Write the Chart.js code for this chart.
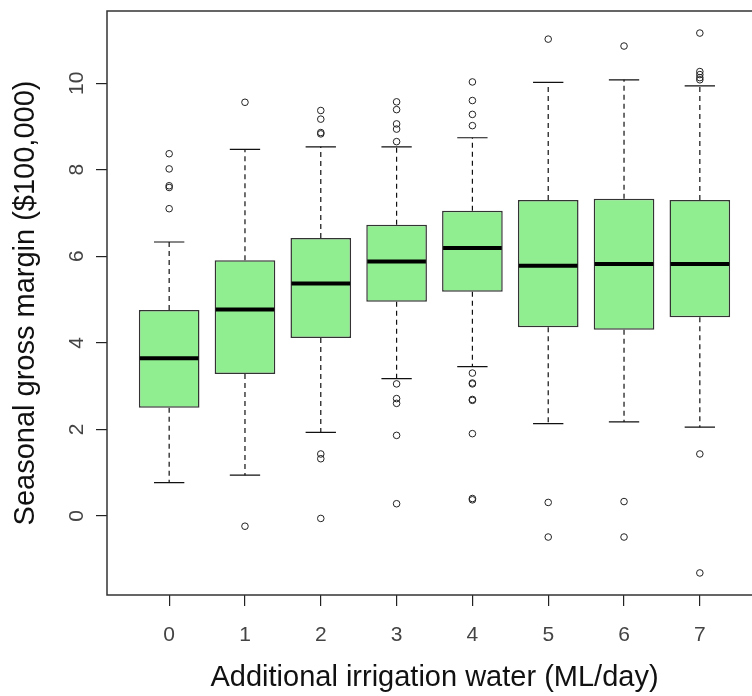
<!DOCTYPE html>
<html>
<head>
<meta charset="utf-8">
<title>Seasonal gross margin by irrigation water</title>
<script src="https://cdn.jsdelivr.net/npm/chart.js@4.4.1/dist/chart.umd.min.js"></script>
<style>
  html, body { margin: 0; padding: 0; background: #fff; overflow: hidden; }
  #wrap { width: 752px; height: 696px; overflow: hidden; }
</style>
</head>
<body>
<div id="wrap"><canvas id="chart" width="770" height="696"></canvas></div>
<script>
// Box plot summary per irrigation level ($100,000)
const groups = ['0', '1', '2', '3', '4', '5', '6', '7'];
const whiskerLow  = [0.77, 0.94, 1.93, 3.17, 3.45, 2.13, 2.17, 2.05];
const q1          = [2.50, 3.28, 4.11, 4.95, 5.18, 4.36, 4.30, 4.59];
const median      = [3.64, 4.77, 5.37, 5.88, 6.19, 5.78, 5.82, 5.82];
const q3          = [4.76, 5.91, 6.42, 6.73, 7.05, 7.30, 7.33, 7.30];
const whiskerHigh = [6.33, 8.47, 8.53, 8.53, 8.74, 10.02, 10.08, 9.94];
const outliers = [
  [8.37, 8.02, 7.63, 7.59, 7.10],
  [9.56, -0.24],
  [9.37, 9.17, 8.86, 8.83, 1.43, 1.32, -0.06],
  [9.57, 9.39, 9.06, 8.94, 8.65, 3.05, 2.71, 2.60, 1.86, 0.28],
  [10.03, 9.60, 9.28, 9.02, 3.30, 3.07, 3.05, 2.69, 2.67, 1.90, 0.40, 0.37],
  [11.02, 0.31, -0.49],
  [10.86, 0.33, -0.49],
  [11.16, 10.27, 10.20, 10.13, 10.08, 1.43, -1.32]
];
const yTicks = [0, 2, 4, 6, 8, 10];

const FONT = "'Liberation Sans', Arial, Helvetica, sans-serif";
Chart.defaults.font.family = FONT;

const boxData = groups.map((g, i) => ({ x: i + 1, y: [q1[i], q3[i]] }));
const outlierData = [];
outliers.forEach((list, i) => {
  list.forEach(v => outlierData.push({ x: i + 1, y: v }));
});

// whiskers, staples, medians, frame and y tick labels
const boxParts = {
  id: 'boxParts',
  beforeDatasetsDraw(chart) {
    const ctx = chart.ctx;
    const xs = chart.scales.x, ys = chart.scales.y;
    ctx.save();
    ctx.strokeStyle = '#111';
    ctx.lineWidth = 1.2;
    groups.forEach((g, i) => {
      const cx = xs.getPixelForValue(i + 1);
      const half = xs.getPixelForValue(i + 1.2) - cx;
      ctx.setLineDash([5, 4]);
      ctx.beginPath();
      ctx.moveTo(cx, ys.getPixelForValue(q3[i]));
      ctx.lineTo(cx, ys.getPixelForValue(whiskerHigh[i]));
      ctx.moveTo(cx, ys.getPixelForValue(q1[i]));
      ctx.lineTo(cx, ys.getPixelForValue(whiskerLow[i]));
      ctx.stroke();
      ctx.setLineDash([]);
      ctx.beginPath();
      ctx.moveTo(cx - half, ys.getPixelForValue(whiskerHigh[i]));
      ctx.lineTo(cx + half, ys.getPixelForValue(whiskerHigh[i]));
      ctx.moveTo(cx - half, ys.getPixelForValue(whiskerLow[i]));
      ctx.lineTo(cx + half, ys.getPixelForValue(whiskerLow[i]));
      ctx.stroke();
    });
    ctx.restore();
  },
  afterDatasetsDraw(chart) {
    const ctx = chart.ctx;
    const xs = chart.scales.x, ys = chart.scales.y;
    const area = chart.chartArea;
    ctx.save();
    ctx.strokeStyle = '#000';
    ctx.lineWidth = 4;
    groups.forEach((g, i) => {
      const cx = xs.getPixelForValue(i + 1);
      const half = xs.getPixelForValue(i + 1.4) - cx;
      const y = ys.getPixelForValue(median[i]);
      ctx.beginPath();
      ctx.moveTo(cx - half + 1, y);
      ctx.lineTo(cx + half - 1, y);
      ctx.stroke();
    });
    ctx.lineWidth = 1.5;
    ctx.strokeStyle = '#333';
    ctx.strokeRect(area.left, area.top, area.right - area.left, area.bottom - area.top);

    ctx.fillStyle = '#444';
    ctx.font = '21px ' + FONT;
    ctx.textAlign = 'center';
    ctx.textBaseline = 'alphabetic';
    yTicks.forEach(v => {
      ctx.save();
      ctx.translate(83, ys.getPixelForValue(v));
      ctx.rotate(-Math.PI / 2);
      ctx.fillText(String(v), 0, 0);
      ctx.restore();
    });
    ctx.restore();
  }
};

new Chart(document.getElementById('chart'), {
  type: 'bar',
  data: {
    datasets: [
      {
        type: 'bar',
        data: boxData,
        backgroundColor: '#90EE90',
        borderColor: '#333333',
        borderWidth: 1.5,
        borderSkipped: false,
        barPercentage: 0.8,
        categoryPercentage: 1.0,
        order: 2
      },
      {
        type: 'scatter',
        data: outlierData,
        pointStyle: 'circle',
        pointRadius: 3.3,
        pointBorderWidth: 1,
        pointBorderColor: '#222',
        pointBackgroundColor: 'rgba(0,0,0,0)',
        showLine: false,
        order: 1
      }
    ]
  },
  options: {
    responsive: false,
    animation: false,
    layout: { padding: { top: 11, right: 8, left: 0, bottom: 0 } },
    plugins: { legend: { display: false }, tooltip: { enabled: false } },
    scales: {
      x: {
        type: 'linear',
        offset: false,
        min: 0.18,
        max: 8.82,
        afterBuildTicks: s => { s.ticks = groups.map((g, i) => ({ value: i + 1 })); },
        afterFit: s => { s.height = 101; },
        grid: { offset: false, drawOnChartArea: false, drawTicks: true, tickLength: 11, tickColor: '#222', lineWidth: 1.2 },
        border: { display: false },
        ticks: {
          color: '#444',
          font: { size: 21 },
          padding: 17,
          maxRotation: 0,
          callback: v => groups[v - 1]
        },
        title: {
          display: true,
          text: 'Additional irrigation water (ML/day)',
          color: '#111',
          font: { size: 29 },
          padding: { top: 0, bottom: 0.3 }
        }
      },
      y: {
        type: 'linear',
        min: -1.83,
        max: 11.67,
        afterBuildTicks: s => { s.ticks = yTicks.map(v => ({ value: v })); },
        afterFit: s => { s.width = 107; },
        grid: { offset: false, drawOnChartArea: false, drawTicks: true, tickLength: 11, tickColor: '#222', lineWidth: 1.2 },
        border: { display: false },
        ticks: { display: false },
        title: {
          display: true,
          text: 'Seasonal gross margin ($100,000)',
          color: '#111',
          font: { size: 29 },
          padding: { top: 8.6, bottom: 0 }
        }
      }
    }
  },
  plugins: [boxParts]
});
</script>
</body>
</html>
